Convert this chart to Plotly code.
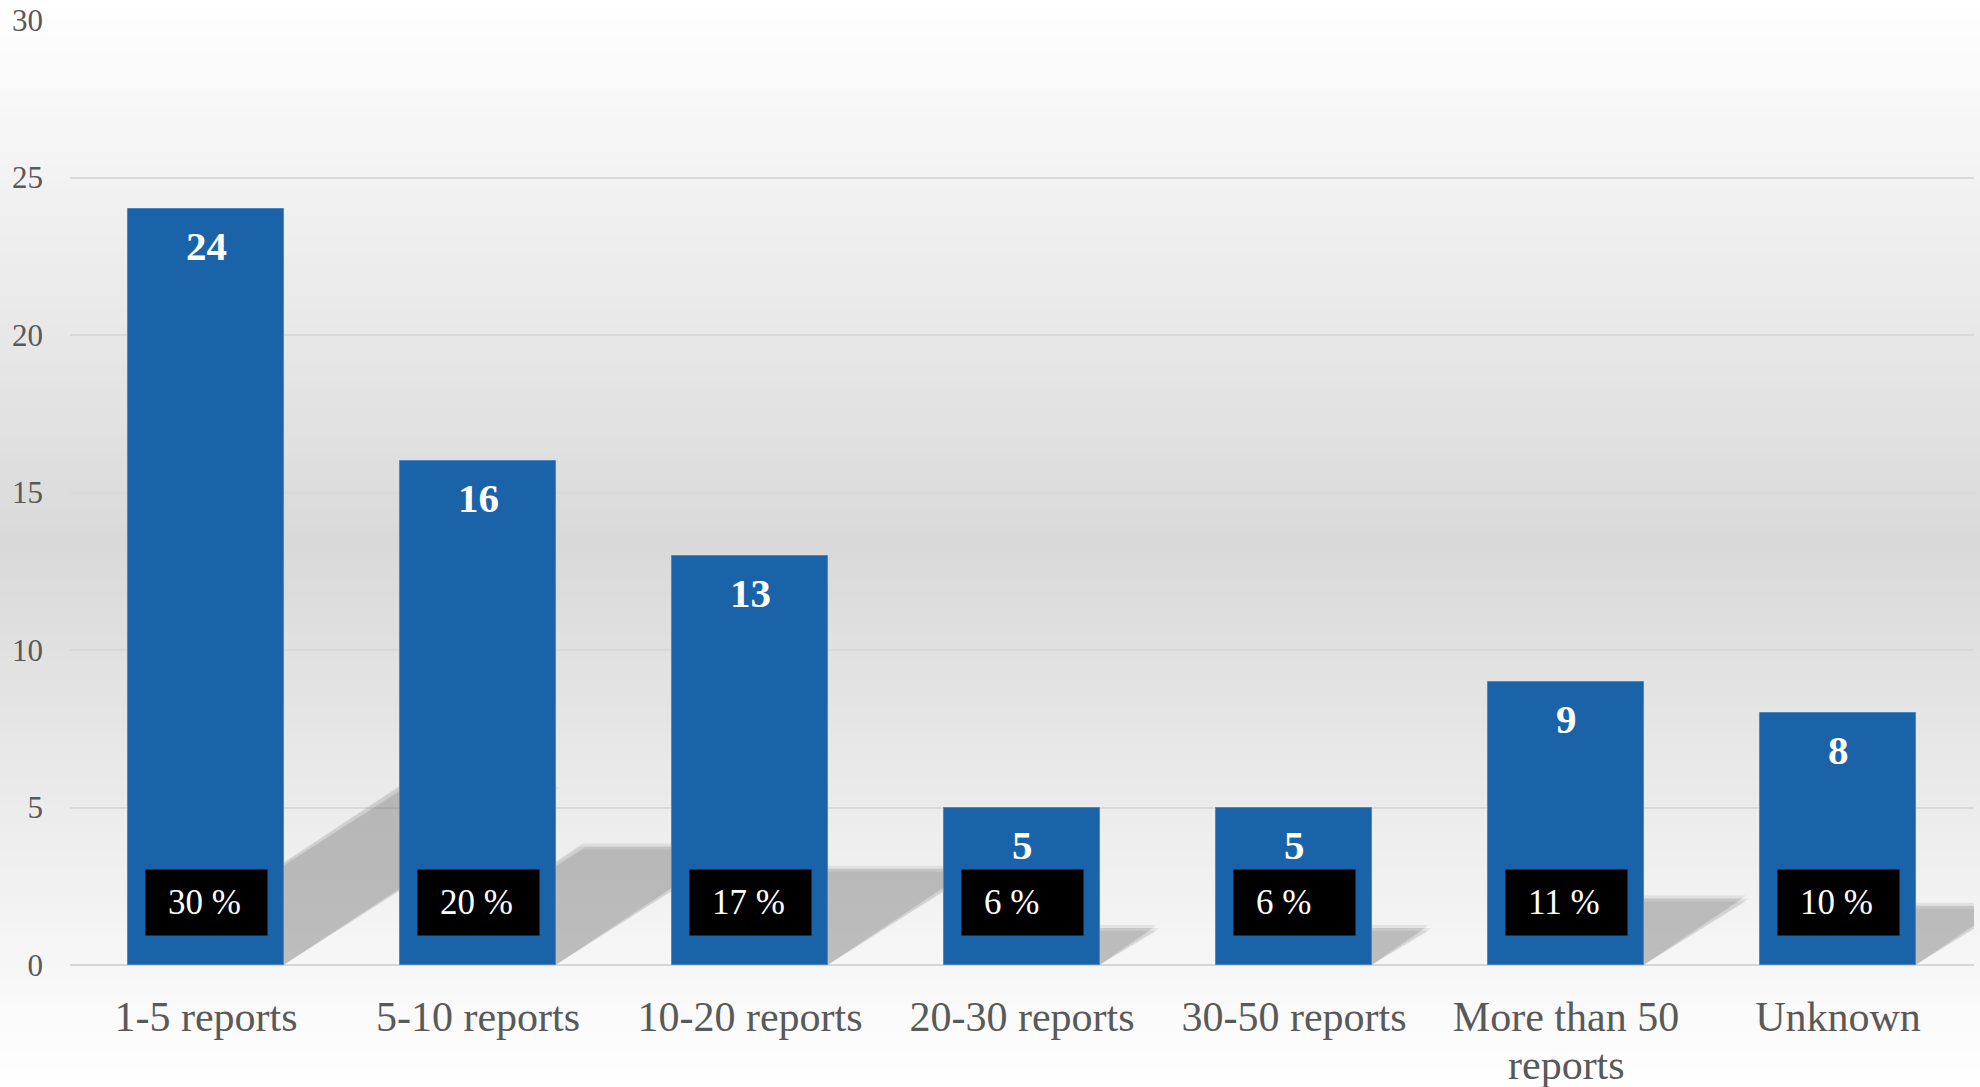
import plotly.graph_objects as go

# ---- data ----
categories = ["1-5 reports", "5-10 reports", "10-20 reports", "20-30 reports",
              "30-50 reports", "More than 50 reports", "Unknown"]
tick_labels = ["1-5 reports", "5-10 reports", "10-20 reports", "20-30 reports",
               "30-50 reports", "More than 50<br>reports", "Unknown"]
counts = [24, 16, 13, 5, 5, 9, 8]
percent_labels = ["30 %", "20 %", "17 %", "6 %", "6 %", "11 %", "10 %"]
y_ticks = [0, 5, 10, 15, 20, 25, 30]

# ---- layout constants ----
W, H = 1980, 1087
ML, MR, MT, MB = 70, 6, 20, 122
PW, PH = W - ML - MR, H - MT - MB
BAR_W = 0.57
FONT = "Liberation Serif"
BAR_COLOR = "#1a63a8"
TICK_FONT = dict(family=FONT, size=42, color="#595959")
LINE_GAP = 48  # px between wrapped tick-label lines

fig = go.Figure()

fig.add_trace(go.Bar(
    x=list(range(len(categories))), y=counts, width=BAR_W,
    marker=dict(color=BAR_COLOR, line=dict(color="#4d86c2", width=1)),
    hoverinfo="skip", showlegend=False))

# vertical gradient background (white -> grey -> white)
shapes = []
N = 120
y_bot = -MB / PH
y_top = 1 + MT / PH
for k in range(N):
    t = (k + 0.5) / N  # 0 = top of figure
    g = int(round(255 - 38 * (1 - abs(t - 0.5) / 0.5)))
    y1 = y_top - (y_top - y_bot) * k / N
    y0 = y_top - (y_top - y_bot) * (k + 1) / N
    shapes.append(dict(type="rect", xref="paper", yref="paper",
                       x0=-ML / PW - 0.01, x1=1 + MR / PW + 0.01,
                       y0=y0 - 0.0005, y1=y1 + 0.0005,
                       fillcolor=f"rgb({g},{g},{g})", line=dict(width=0),
                       layer="below"))

# soft perspective shadows behind each bar (derived from bar heights)
y_px = PH / 30.0
x_px = PW / len(categories)
offsets = [(-3, 0), (3, 0), (0, -3), (0, 3)]
for i, v in enumerate(counts):
    dy = 0.235 * v
    dx = dy * y_px / 0.65 / x_px
    xl, xr = i - BAR_W / 2, i + BAR_W / 2
    for ox, oy in offsets:
        ox_d, oy_d = ox / x_px, oy / y_px
        pts = [(xl, 0), (xr, 0), (xr + dx + ox_d, dy + oy_d),
               (xl + dx + ox_d, dy + oy_d)]
        path = "M " + " L ".join(f"{px:.4f},{py:.4f}" for px, py in pts) + " Z"
        shapes.append(dict(type="path", xref="x", yref="y", path=path,
                           fillcolor="rgba(110,110,110,0.12)",
                           line=dict(width=0), layer="between"))

annotations = []
for i, (v, p) in enumerate(zip(counts, percent_labels)):
    annotations.append(dict(
        x=i, y=v, xref="x", yref="y", text=f"<b>{v}</b>", showarrow=False,
        yanchor="top", yshift=-12,
        font=dict(family=FONT, size=41, color="white")))
    annotations.append(dict(
        x=i, y=2.0, xref="x", yref="y", text=" ", showarrow=False,
        width=121, height=65, bgcolor="black", borderpad=0,
        xanchor="center", yanchor="middle",
        font=dict(family=FONT, size=10, color="black")))
    annotations.append(dict(
        x=i, y=2.0, xref="x", yref="y", text=p, showarrow=False,
        xanchor="left", yanchor="middle", xshift=-40,
        font=dict(family=FONT, size=35, color="white")))

# first line of each tick label on the axis, further lines as tighter text
first_lines = []
for i, lab in enumerate(tick_labels):
    parts = lab.split("<br>")
    first_lines.append(parts[0])
    for j, extra in enumerate(parts[1:], start=1):
        annotations.append(dict(
            x=i, y=0, xref="x", yref="y", text=extra, showarrow=False,
            yanchor="middle", yshift=-52 - LINE_GAP * j,
            font=TICK_FONT))

fig.update_layout(
    width=W, height=H,
    margin=dict(l=ML, r=MR, t=MT, b=MB, autoexpand=False),
    paper_bgcolor="white", plot_bgcolor="rgba(0,0,0,0)",
    shapes=shapes, annotations=annotations,
    bargap=0,
    xaxis=dict(range=[-0.5, len(categories) - 0.5], automargin=False,
               tickmode="array", tickvals=list(range(len(categories))),
               ticktext=first_lines, showgrid=False, zeroline=False,
               showline=False, ticks="", ticklabelstandoff=23,
               tickfont=TICK_FONT),
    yaxis=dict(range=[0, 30], tickmode="array", tickvals=y_ticks,
               automargin=False,
               showgrid=True, gridcolor="#d9d9d9", gridwidth=1.5,
               zeroline=True, zerolinecolor="#d6d6d6", zerolinewidth=2,
               showline=False, ticks="", ticklabelstandoff=26,
               tickfont=dict(family=FONT, size=31, color="#595959")),
)

fig.write_html("out.html",
               config={"displayModeBar": False},
               post_script="document.body.style.margin='0';"
                           "document.body.style.overflow='hidden';")
